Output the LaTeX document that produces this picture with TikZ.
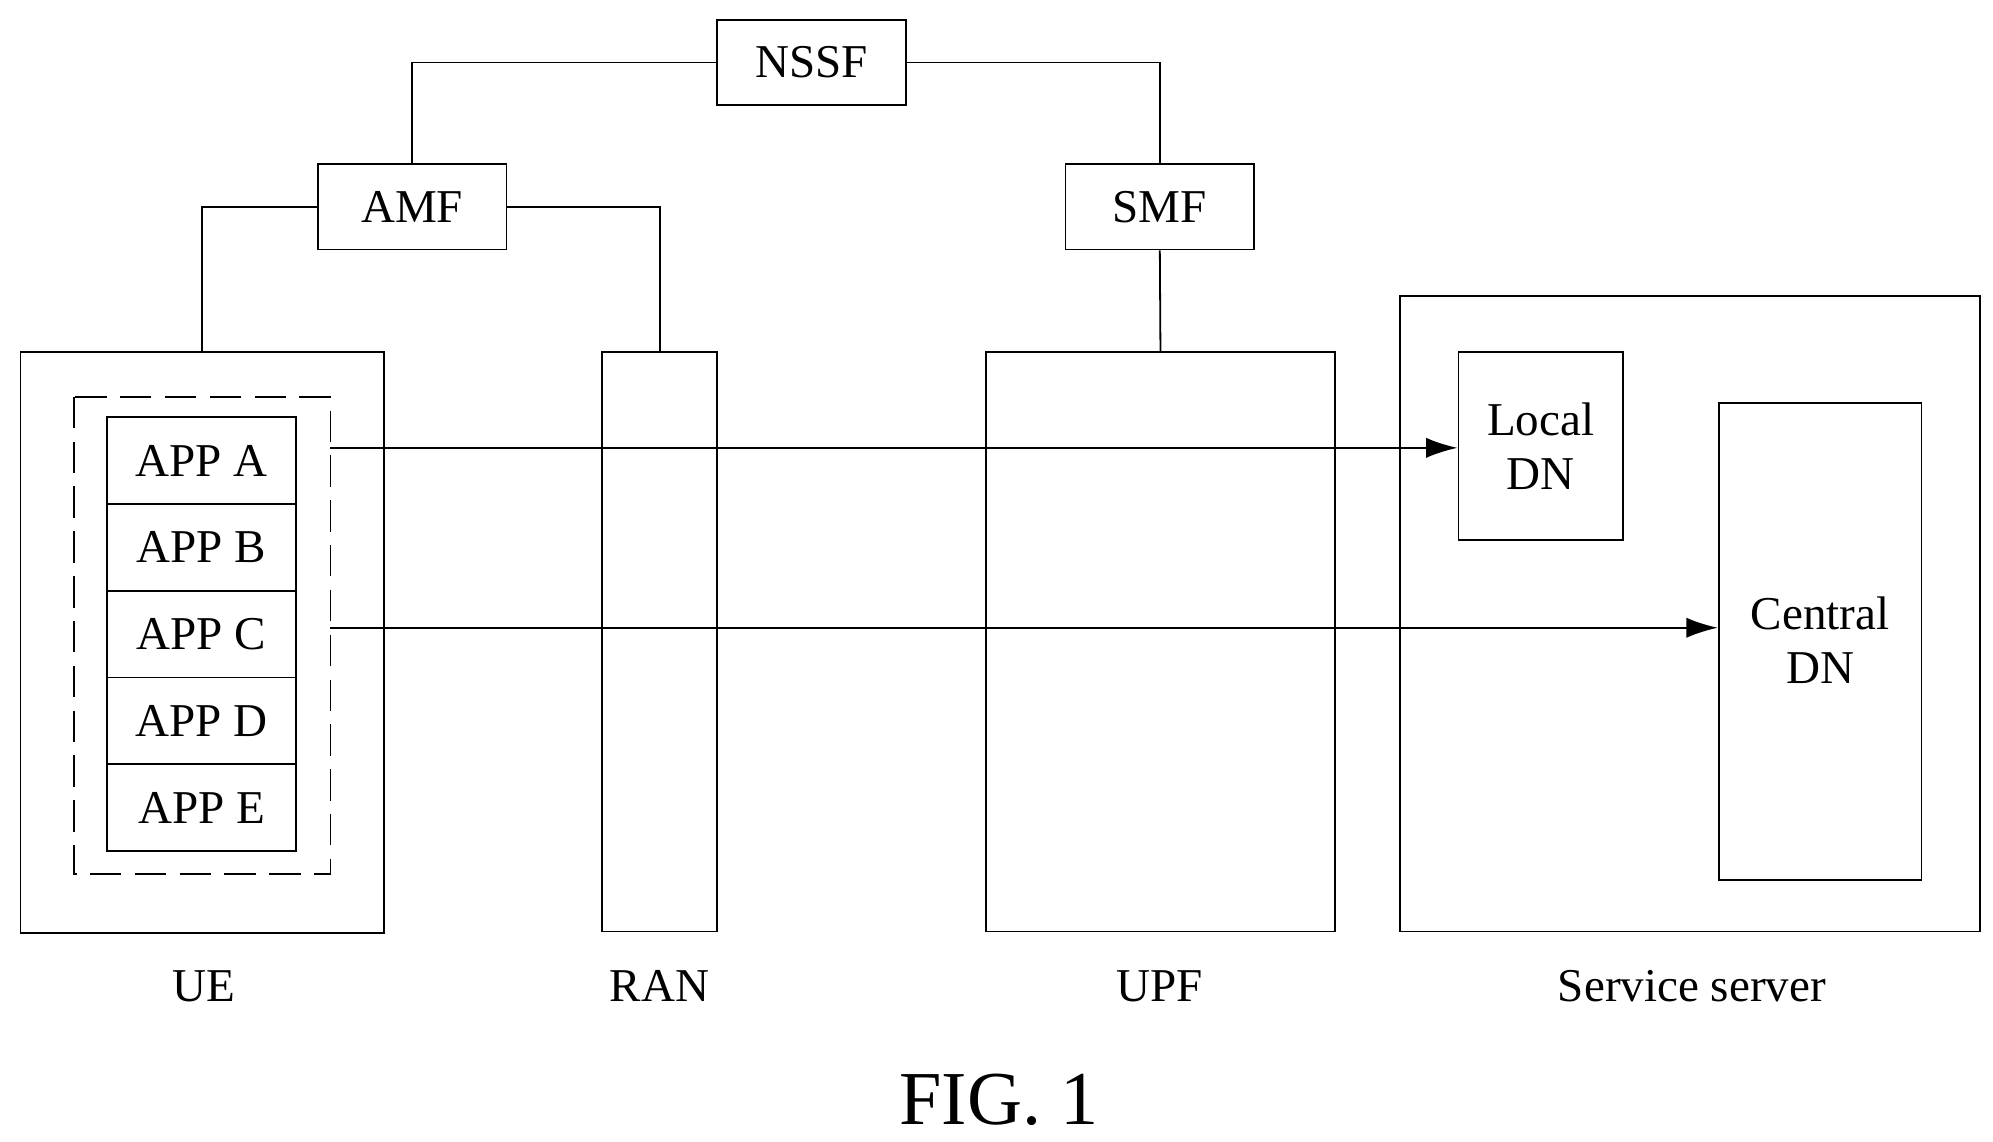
\documentclass[tikz,border=0pt]{standalone}
\usepackage{fontspec}
\setmainfont{Liberation Serif}
\usetikzlibrary{arrows.meta}
\tikzset{
  box/.style={draw, thick, inner sep=0pt, font=\fontsize{21}{24}\selectfont, align=center},
  lbl/.style={font=\fontsize{21}{24}\selectfont},
  link/.style={thick},
  flow/.style={thick, -{Latex[length=14pt,width=9pt]}}
}
\begin{document}
\begin{tikzpicture}[x=0.02cm,y=-0.02cm]
    \useasboundingbox (0,0) rectangle (1562,895);
    % control plane functions
    \node[box, minimum width=148*0.02cm, minimum height=67*0.02cm] (nssf) at (636,49) {NSSF};
    \node[box, minimum width=148*0.02cm, minimum height=67*0.02cm] (amf) at (323,162) {AMF};
    \node[box, minimum width=148*0.02cm, minimum height=67*0.02cm] (smf) at (909,162) {SMF};
    % user plane
    \node[box, minimum width=285*0.02cm, minimum height=455*0.02cm] (ue) at (158.5,503.5) {};
    \node[box, minimum width=90*0.02cm, minimum height=454*0.02cm] (ran) at (517,503) {};
    \node[box, minimum width=273*0.02cm, minimum height=454*0.02cm] (upf) at (909.5,503) {};
    \node[box, minimum width=455*0.02cm, minimum height=498*0.02cm] (server) at (1324.5,481) {};
    \node[box, minimum width=129*0.02cm, minimum height=147*0.02cm] (localdn) at (1207.5,349.5) {Local\\DN};
    \node[box, minimum width=159*0.02cm, minimum height=374*0.02cm] (centraldn) at (1426.5,503) {};
    \node[lbl, align=center] at (1426.5,502) {Central\\DN};
    % applications
    \draw[thick, dash pattern=on 14pt off 6pt] (58,311) rectangle (259,685);
    \foreach \a [count=\i from 0] in {A,B,C,D,E}
        \node[box, minimum width=148*0.02cm, minimum height=68*0.02cm] (app\a) at (158,361+68*\i) {APP \a};
    \coordinate (outA) at (259,351);
    \coordinate (outC) at (259,492);
    % labels
    \node[lbl] at (160,773) {UE};
    \node[lbl] at (517,773) {RAN};
    \node[lbl] at (909,773) {UPF};
    \node[lbl] at (1326,773) {Service server};
    \node[font=\fontsize{34}{40}\selectfont] at (783,862) {FIG. 1};
    % connections
    \draw[link] (nssf.west) -| (amf.north);
    \draw[link] (nssf.east) -| (smf.north);
    \draw[link] (amf.west) -| (ue.north);
    \draw[link] (amf.east) -| (ran.north);
    \draw[link] (smf.south) -- (upf.north);
    \draw[flow] (outA) -- (outA -| localdn.west);
    \draw[flow] (outC) -- (outC -| centraldn.west);
\end{tikzpicture}
\end{document}
